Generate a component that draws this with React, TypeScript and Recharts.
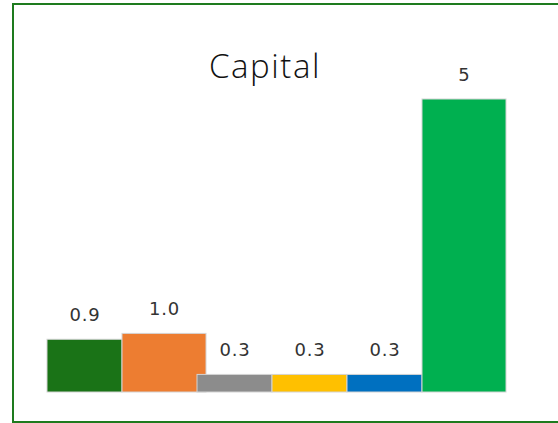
import React from "react";
import { BarChart, Bar, XAxis, YAxis, LabelList, Cell } from "recharts";

const categories = ["A", "B", "C", "D", "E", "F"];
const values = [0.9, 1.0, 0.3, 0.3, 0.3, 5];
const valueLabels = ["0.9", "1.0", "0.3", "0.3", "0.3", "5"];
const colors = ["#1A7317", "#ED7D31", "#8C8C8C", "#FFC000", "#0070C0", "#00B050"];
const widened = ["B", "F"];
const WIDEN = 1.12;

const data = categories.map((c, i) => ({ name: c, value: values[i], label: valueLabels[i] }));

const Shape = (props: any) => {
  const { x, y, width, height, fill, payload } = props;
  const w = widened.includes(payload.name) ? width * WIDEN : width;
  return <rect x={x} y={y} width={w} height={height} fill={fill} stroke="#d4d4d4" strokeWidth={1} />;
};

const Label = (props: any) => {
  const { x, y, width, index } = props;
  const w = widened.includes(categories[index]) ? width * WIDEN : width;
  return (
    <text
      x={x + w / 2 + 0.5}
      y={y - 18}
      textAnchor="middle"
      fontSize={18}
      letterSpacing={0.8}
      fill="#333"
      fontFamily="'DejaVu Sans', sans-serif"
    >
      {valueLabels[index]}
    </text>
  );
};

export default function App() {
  return (
    <div style={{ position: "absolute", left: 0, top: 0, width: 558, height: 423, overflow: "hidden", background: "#fff" }}>
      <div style={{ position: "absolute", left: 12, top: 3, width: 580, height: 416, border: "2px solid #1E7B1E" }} />
      <div style={{ position: "absolute", left: 0, top: 0 }}>
        <BarChart width={558} height={423} data={data} margin={{ top: 99, right: 61, bottom: 31, left: 47 }} barCategoryGap={0} barGap={0}>
          <XAxis dataKey="name" hide />
          <YAxis hide domain={[0, 5]} />
          <text
            x={265}
            y={78}
            textAnchor="middle"
            fontSize={33}
            letterSpacing={1.6}
            fill="#111"
            fontFamily="'Open Sans', sans-serif"
            fontWeight={300}
          >
            Capital
          </text>
          <Bar dataKey="value" isAnimationActive={false} shape={<Shape />}>
            {data.map((d, i) => (
              <Cell key={d.name} fill={colors[i]} />
            ))}
            <LabelList dataKey="label" content={<Label />} />
          </Bar>
        </BarChart>
      </div>
    </div>
  );
}
